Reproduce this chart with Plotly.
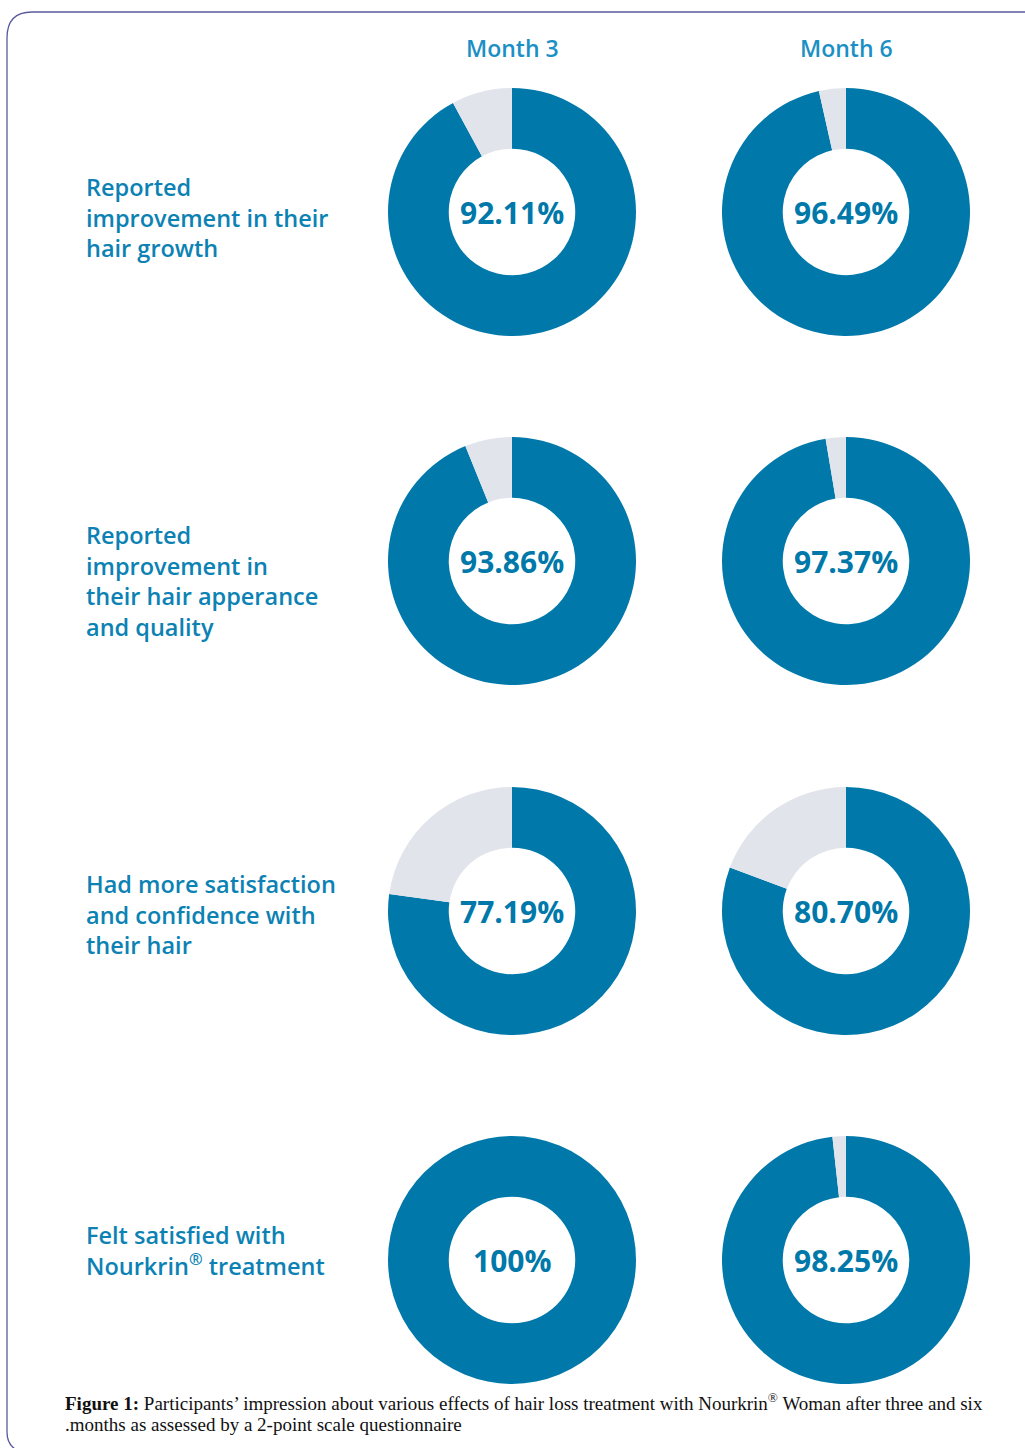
import plotly.graph_objects as go

W, H = 1025, 1448

months = ["Month 3", "Month 6"]
row_labels = [
    "Reported<br>improvement in their<br>hair growth",
    "Reported<br>improvement in<br>their hair apperance<br>and quality",
    "Had more satisfaction<br>and confidence with<br>their hair",
    "Felt satisfied with<br>Nourkrin<sup>®</sup> treatment",
]
month3_values = [92.11, 93.86, 77.19, 100.0]
month6_values = [96.49, 97.37, 80.70, 98.25]
month3_text = ["92.11%", "93.86%", "77.19%", "100%"]
month6_text = ["96.49%", "97.37%", "80.70%", "98.25%"]

BLUE = "#0079AA"
GREY = "#E1E4EB"
TEXT_BLUE = "#0C82B4"
HEAD_BLUE = "#1A90C4"

col_cx = [512, 846]
row_cy = [212, 561, 911, 1260]
label_cy = [217, 581, 915, 1250]
R = 124


def px(x):
    return x / W


def py(y):
    return 1 - y / H


fig = go.Figure()

for ci, (vals, texts) in enumerate([(month3_values, month3_text), (month6_values, month6_text)]):
    for ri, v in enumerate(vals):
        cx, cy = col_cx[ci], row_cy[ri]
        fig.add_trace(go.Pie(
            values=[v, 100 - v],
            labels=["Yes", "No"],
            marker=dict(colors=[BLUE, GREY], line=dict(width=0)),
            hole=0.51,
            sort=False,
            direction="clockwise",
            rotation=0,
            textinfo="none",
            hoverinfo="label+value",
            showlegend=False,
            domain=dict(x=[px(cx - R), px(cx + R)], y=[py(cy + R), py(cy - R)]),
        ))
        fig.add_annotation(
            x=px(cx), y=py(cy), xref="paper", yref="paper",
            text=texts[ri], showarrow=False, xanchor="center", yanchor="middle",
            font=dict(family="Open Sans", size=30, color=BLUE, weight=700),
        )

for ci, m in enumerate(months):
    fig.add_annotation(
        x=px(col_cx[ci]), y=py(48), xref="paper", yref="paper",
        text=m, showarrow=False, xanchor="center", yanchor="middle",
        font=dict(family="Open Sans", size=23, color=HEAD_BLUE, weight=600),
    )

for ri, lab in enumerate(row_labels):
    fig.add_annotation(
        x=px(84), y=py(label_cy[ri]), xref="paper", yref="paper",
        text=lab, showarrow=False, xanchor="left", yanchor="middle", align="left",
        font=dict(family="Open Sans", size=23.5, color=TEXT_BLUE, weight=600),
    )

# caption
fig.add_annotation(
    x=px(63), y=py(1402), xref="paper", yref="paper",
    text="<b>Figure 1:</b> Participants’ impression about various effects of hair loss treatment with Nourkrin<sup>®</sup> Woman after three and six",
    showarrow=False, xanchor="left", yanchor="middle",
    font=dict(family="Liberation Serif", size=19, color="#111111"),
)
fig.add_annotation(
    x=px(63), y=py(1424), xref="paper", yref="paper",
    text=".months as assessed by a 2-point scale questionnaire",
    showarrow=False, xanchor="left", yanchor="middle",
    font=dict(family="Liberation Serif", size=19, color="#111111"),
)

# rounded frame
path = (f"M {px(1030)} {py(12)} L {px(32)} {py(12)} "
        f"Q {px(7)} {py(12)} {px(7)} {py(38)} "
        f"L {px(7)} {py(1432)} Q {px(7)} {py(1448)} {px(22)} {py(1452)}")
fig.add_shape(type="path", path=path, xref="paper", yref="paper",
              line=dict(color="#5B5A9C", width=1.3))

fig.update_layout(
    width=W, height=H,
    margin=dict(l=0, r=0, t=0, b=0),
    paper_bgcolor="white", plot_bgcolor="white",
)

fig.write_html("out.html")
